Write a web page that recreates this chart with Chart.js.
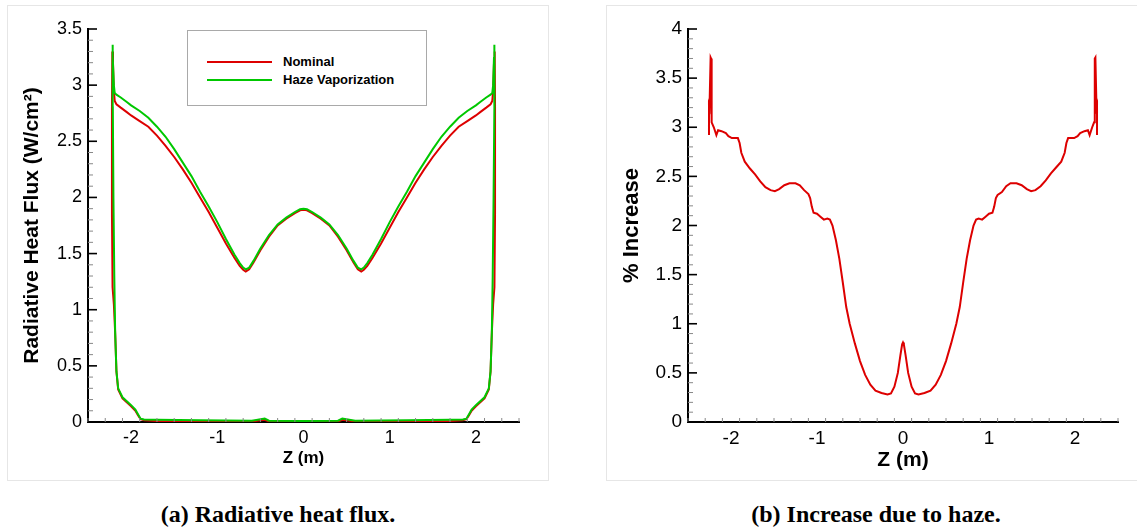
<!DOCTYPE html>
<html>
<head>
<meta charset="utf-8">
<script src="https://cdn.jsdelivr.net/npm/chart.js@4.4.1/dist/chart.umd.min.js"></script>
<style>
  body { margin: 0; background: #fff; width: 1137px; height: 527px; overflow: hidden; position: relative;
         font-family: "Liberation Sans", Arial, sans-serif; }
  .panel { position: absolute; border: 1px solid #e6e6e6; box-sizing: border-box; }
  canvas { position: absolute; }
  .legend { position: absolute; left: 187px; top: 30px; width: 240px; height: 76px; box-sizing: border-box;
            border: 1.5px solid #a9a9a9; background: #fff; }
  .legend .ln { position: absolute; left: 19px; width: 65px; height: 2px; }
  .legend .tx { position: absolute; left: 95px; font-weight: bold; font-size: 13px; line-height: 16px; color: #000; }
  .caption { position: absolute; top: 500px; font-family: "Liberation Serif", "Times New Roman", serif;
             font-weight: bold; font-size: 24px; line-height: 28px; text-align: center; width: 400px; }
</style>
</head>
<body>
<div class="panel" style="left:7px;top:5px;width:542px;height:476px"></div>
<div class="panel" style="left:606px;top:5px;width:540px;height:476px"></div>
<canvas id="flux" width="541" height="474" style="left:7px;top:6px"></canvas>
<canvas id="incr" width="530" height="474" style="left:607px;top:6px"></canvas>
<div class="legend">
  <div class="ln" style="top:30px;background:#dd0000"></div>
  <div class="tx" style="top:23px">Nominal</div>
  <div class="ln" style="top:48px;background:#00c800"></div>
  <div class="tx" style="top:41px">Haze Vaporization</div>
</div>
<div class="caption" style="left:78px">(a) Radiative heat flux.</div>
<div class="caption" style="left:676px">(b) Increase due to haze.</div>
<script>
// ---- data ----
// (a) heat flux, closed path along the surface: top branch left->right, then bottom branch right->left
const nominalZ = [-2.2, -2.215, -2.222, -2.222, -2.218, -2.21,
  -2.2, -2.19, -2.17, -2.12, -2.05, -2.0, -1.9, -1.8, -1.7, -1.6, -1.5, -1.4, -1.3, -1.2, -1.1, -1.0, -0.9, -0.8, -0.74, -0.7, -0.67, -0.63, -0.58, -0.5, -0.4, -0.3, -0.2, -0.1, -0.04, 0,
  0.04, 0.1, 0.2, 0.3, 0.4, 0.5, 0.58, 0.63, 0.67, 0.7, 0.74, 0.8, 0.9, 1.0, 1.1, 1.2, 1.3, 1.4, 1.5, 1.6, 1.7, 1.8, 1.9, 2.0, 2.05, 2.12, 2.17, 2.19, 2.2,
  2.21, 2.218, 2.222, 2.222, 2.215, 2.2,
  2.185, 2.17, 2.15, 2.1, 2.0, 1.95, 1.92, 1.89, 1.85, 1.7, 1.2, 0.6, 0.45, 0.4, 0.0, -0.4, -0.45, -0.6, -1.2, -1.7, -1.85, -1.89, -1.92, -1.95, -2.0, -2.1, -2.15, -2.17, -2.185, -2.2];
const nominalQ = [1.05, 1.20, 1.85, 2.80, 3.30, 3.20,
  2.95, 2.86, 2.83, 2.80, 2.76, 2.73, 2.68, 2.63, 2.55, 2.46, 2.36, 2.25, 2.13, 2.00, 1.87, 1.73, 1.59, 1.46, 1.39, 1.355, 1.34, 1.36, 1.42, 1.53, 1.65, 1.75, 1.81, 1.86, 1.885, 1.89,
  1.885, 1.86, 1.81, 1.75, 1.65, 1.53, 1.42, 1.36, 1.34, 1.355, 1.39, 1.46, 1.59, 1.73, 1.87, 2.00, 2.13, 2.25, 2.36, 2.46, 2.55, 2.63, 2.68, 2.73, 2.76, 2.80, 2.83, 2.86, 2.95,
  3.20, 3.30, 2.80, 1.85, 1.20, 1.05,
  0.80, 0.45, 0.29, 0.21, 0.14, 0.10, 0.06, 0.025, 0.015, 0.01, 0.006, 0.004, 0.02, 0.004, 0.002, 0.004, 0.02, 0.004, 0.006, 0.01, 0.015, 0.025, 0.06, 0.10, 0.14, 0.21, 0.29, 0.45, 0.80, 1.05];
const hazeZ = [-2.195, -2.205, -2.212, -2.216, -2.215, -2.21,
  -2.2, -2.19, -2.17, -2.12, -2.05, -2.0, -1.9, -1.8, -1.7, -1.6, -1.5, -1.4, -1.3, -1.2, -1.1, -1.0, -0.9, -0.8, -0.74, -0.7, -0.67, -0.63, -0.58, -0.5, -0.4, -0.3, -0.2, -0.1, -0.04, 0,
  0.04, 0.1, 0.2, 0.3, 0.4, 0.5, 0.58, 0.63, 0.67, 0.7, 0.74, 0.8, 0.9, 1.0, 1.1, 1.2, 1.3, 1.4, 1.5, 1.6, 1.7, 1.8, 1.9, 2.0, 2.05, 2.12, 2.17, 2.19, 2.2,
  2.21, 2.215, 2.216, 2.212, 2.205, 2.195,
  2.185, 2.17, 2.15, 2.1, 2.0, 1.95, 1.92, 1.89, 1.85, 1.7, 1.2, 0.6, 0.45, 0.4, 0.0, -0.4, -0.45, -0.6, -1.2, -1.7, -1.85, -1.89, -1.92, -1.95, -2.0, -2.1, -2.15, -2.17, -2.185, -2.195];
const hazeQ = [1.30, 2.00, 2.80, 3.30, 3.36, 3.25,
  3.00, 2.93, 2.915, 2.89, 2.85, 2.82, 2.77, 2.71, 2.63, 2.54, 2.43, 2.31, 2.19, 2.05, 1.92, 1.78, 1.63, 1.49, 1.415, 1.375, 1.36, 1.375, 1.435, 1.545, 1.665, 1.76, 1.82, 1.87, 1.895, 1.90,
  1.895, 1.87, 1.82, 1.76, 1.665, 1.545, 1.435, 1.375, 1.36, 1.375, 1.415, 1.49, 1.63, 1.78, 1.92, 2.05, 2.19, 2.31, 2.43, 2.54, 2.63, 2.71, 2.77, 2.82, 2.85, 2.89, 2.915, 2.93, 3.00,
  3.25, 3.36, 3.30, 2.80, 2.00, 1.30,
  0.80, 0.45, 0.30, 0.22, 0.15, 0.11, 0.07, 0.03, 0.022, 0.02, 0.016, 0.012, 0.03, 0.012, 0.01, 0.012, 0.03, 0.012, 0.016, 0.02, 0.022, 0.03, 0.07, 0.11, 0.15, 0.22, 0.30, 0.45, 0.80, 1.30];

// (b) percentage increase
const incZ = [-2.256, -2.256, -2.25, -2.237, -2.232, -2.228, -2.222, -2.2, -2.17, -2.15, -2.11, -2.06, -2.03, -1.99, -1.95, -1.92, -1.90, -1.88, -1.84, -1.78, -1.72, -1.66, -1.60, -1.54, -1.49, -1.44, -1.38, -1.32, -1.25, -1.20, -1.15, -1.10, -1.08, -1.06, -1.04, -1.00, -0.96, -0.92, -0.88, -0.85, -0.82, -0.78, -0.74, -0.70, -0.66, -0.62, -0.56, -0.50, -0.44, -0.38, -0.32, -0.25, -0.18, -0.14, -0.10, -0.06, -0.03, -0.01, 0.0,
  0.01, 0.03, 0.06, 0.10, 0.14, 0.18, 0.25, 0.32, 0.38, 0.44, 0.50, 0.56, 0.62, 0.66, 0.70, 0.74, 0.78, 0.82, 0.85, 0.88, 0.92, 0.96, 1.00, 1.04, 1.06, 1.08, 1.10, 1.15, 1.20, 1.25, 1.32, 1.38, 1.44, 1.49, 1.54, 1.60, 1.66, 1.72, 1.78, 1.84, 1.88, 1.90, 1.92, 1.95, 1.99, 2.03, 2.06, 2.11, 2.15, 2.17, 2.2, 2.222, 2.228, 2.232, 2.237, 2.25, 2.256, 2.256];
const incPct = [2.92, 3.22, 3.20, 3.71, 3.70, 3.68, 3.05, 3.00, 2.92, 2.97, 2.96, 2.94, 2.91, 2.89, 2.89, 2.89, 2.84, 2.74, 2.65, 2.58, 2.52, 2.45, 2.39, 2.36, 2.35, 2.37, 2.41, 2.43, 2.43, 2.41, 2.36, 2.32, 2.28, 2.19, 2.13, 2.12, 2.09, 2.06, 2.07, 2.06, 2.00, 1.85, 1.66, 1.42, 1.17, 1.00, 0.80, 0.62, 0.48, 0.38, 0.32, 0.295, 0.28, 0.29, 0.36, 0.50, 0.68, 0.79, 0.81,
  0.79, 0.68, 0.50, 0.36, 0.29, 0.28, 0.295, 0.32, 0.38, 0.48, 0.62, 0.80, 1.00, 1.17, 1.42, 1.66, 1.85, 2.00, 2.06, 2.07, 2.06, 2.09, 2.12, 2.13, 2.19, 2.28, 2.31, 2.34, 2.40, 2.43, 2.43, 2.41, 2.37, 2.35, 2.36, 2.40, 2.46, 2.53, 2.59, 2.65, 2.74, 2.84, 2.89, 2.89, 2.89, 2.91, 2.94, 2.96, 2.97, 2.92, 3.00, 3.05, 3.68, 3.70, 3.71, 3.20, 3.22, 2.92];

const zTicks = [-2, -1, 0, 1, 2];
const fluxTicks = [0, 0.5, 1, 1.5, 2, 2.5, 3, 3.5];
const incTicks = [0, 0.5, 1, 1.5, 2, 2.5, 3, 3.5, 4];

function pts(xs, ys) {
  return xs.map((x, i) => ({ x: x, y: ys[i] }));
}

// tecplot style ticks pointing into the plot
const innerTicks = {
  id: 'innerTicks',
  afterDraw(chart, args, opts) {
    const ctx = chart.ctx;
    const x = chart.scales.x, y = chart.scales.y;
    ctx.save();
    function run(scale, step, majors, isX) {
      const n = Math.round((scale.max - scale.min) / step);
      for (let i = 0; i <= n; i++) {
        const v = scale.min + i * step;
        const major = majors.some(m => Math.abs(m - v) < 1e-6);
        const len = major ? (isX ? 8 : 9) : (isX ? 4 : 5);
        ctx.strokeStyle = major ? '#000' : '#888';
        ctx.lineWidth = major ? 1.6 : 1;
        const p = scale.getPixelForValue(v);
        ctx.beginPath();
        if (isX) {
          ctx.moveTo(p, y.bottom);
          ctx.lineTo(p, y.bottom - len);
        } else {
          ctx.moveTo(x.left, p);
          ctx.lineTo(x.left + len, p);
        }
        ctx.stroke();
      }
    }
    run(x, opts.xStep, opts.xMajor, true);
    run(y, opts.yStep, opts.yMajor, false);
    ctx.restore();
  }
};

function makeChart(id, datasets, yMax, yTicks, yTitle, yTitleFont, yTitlePad, xTitleFont, xTitlePad, tickSize, rightPad) {
  return new Chart(document.getElementById(id), {
    type: 'scatter',
    data: { datasets: datasets },
    options: {
      responsive: false,
      animation: false,
      devicePixelRatio: 1,
      layout: { padding: { top: 23, right: rightPad, left: 0, bottom: 0 } },
      plugins: {
        legend: { display: false },
        tooltip: { enabled: false },
        innerTicks: { xStep: 0.2, xMajor: zTicks, yStep: 0.1, yMajor: yTicks }
      },
      scales: {
        x: {
          min: -2.5, max: 2.5,
          afterBuildTicks: s => { s.ticks = zTicks.map(v => ({ value: v })); },
          afterFit: s => { s.height = 58; },
          grid: { display: true, drawOnChartArea: false, drawTicks: false },
          border: { display: true, color: '#000', width: 2 },
          ticks: { color: '#000', padding: 5, maxRotation: 0, font: { family: 'Liberation Sans', size: tickSize }, callback: v => String(v) },
          title: { display: true, text: 'Z (m)', color: '#000', padding: { top: 0, bottom: xTitlePad },
                   font: { family: 'Liberation Sans', size: xTitleFont, weight: 'bold' } }
        },
        y: {
          min: 0, max: yMax,
          afterBuildTicks: s => { s.ticks = yTicks.map(v => ({ value: v })); },
          afterFit: s => { s.width = 81; },
          grid: { display: true, drawOnChartArea: false, drawTicks: false },
          border: { display: true, color: '#000', width: 2 },
          ticks: { color: '#000', padding: 6, font: { family: 'Liberation Sans', size: tickSize }, callback: v => String(v) },
          title: { display: true, text: yTitle, color: '#000', padding: { top: yTitlePad, bottom: 0 },
                   font: { family: 'Liberation Sans', size: yTitleFont, weight: 'bold' } }
        }
      }
    },
    plugins: [innerTicks]
  });
}

makeChart('flux', [
  { label: 'Nominal', data: pts(nominalZ, nominalQ), showLine: true, borderColor: '#dd0000', borderWidth: 2,
    pointRadius: 0, tension: 0, fill: false, order: 2 },
  { label: 'Haze Vaporization', data: pts(hazeZ, hazeQ), showLine: true, borderColor: '#00c800', borderWidth: 2,
    pointRadius: 0, tension: 0, fill: false, order: 1 }
], 3.5, fluxTicks, 'Radiative Heat Flux (W/cm²)', 21, 13, 17, 11, 18, 29);

makeChart('incr', [
  { label: '% Increase', data: pts(incZ, incPct), showLine: true, borderColor: '#dd0000', borderWidth: 2,
    pointRadius: 0, tension: 0, fill: false }
], 4, incTicks, '% Increase', 22, 12, 21, 7, 19, 19);
</script>
</body>
</html>
